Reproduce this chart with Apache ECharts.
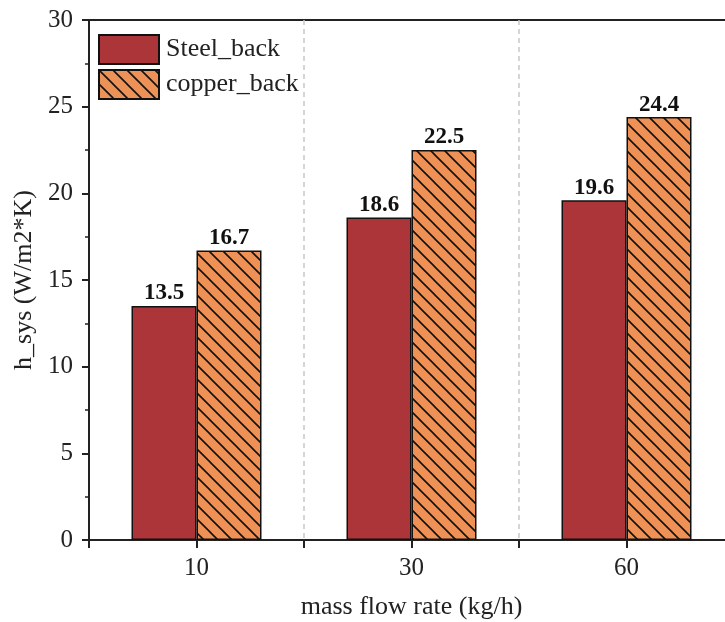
<!DOCTYPE html>
<html>
<head>
<meta charset="utf-8">
<script src="https://cdn.jsdelivr.net/npm/echarts@6/dist/echarts.min.js"></script>
<style>
html,body{margin:0;padding:0;background:#fff;}
#chart{width:725px;height:622px;}
</style>
</head>
<body>
<div id="chart"></div>
<script>
const categories = ['10', '30', '60'];
const steelBack = [13.5, 18.6, 19.6];
const copperBack = [16.7, 22.5, 24.4];
const seriesNames = ['Steel_back', 'copper_back'];

function hatch() {
  const s = 14;
  const c = document.createElement('canvas');
  c.width = s; c.height = s;
  const g = c.getContext('2d');
  g.fillStyle = '#EE9157';
  g.fillRect(0, 0, s, s);
  g.strokeStyle = '#111';
  g.lineWidth = 1.6;
  g.beginPath();
  g.moveTo(-2, -2); g.lineTo(s + 2, s + 2);
  g.moveTo(-2, s - 2); g.lineTo(2, s + 2);
  g.moveTo(s - 2, -2); g.lineTo(s + 2, 2);
  g.stroke();
  return c;
}

const font = 'Liberation Serif';
const chart = echarts.init(document.getElementById('chart'));
const labelStyle = {
  show: true, position: 'top', distance: 1,
  fontFamily: font, fontWeight: 'bold', fontSize: 23, color: '#111'
};
chart.setOption({
  animation: false,
  backgroundColor: '#fff',
  grid: {
    left: 89, top: 20, height: 520, width: 645,
    outerBoundsMode: 'none', containLabel: false,
    show: true, borderColor: '#222', borderWidth: 2
  },
  legend: {
    left: 93, top: 29, orient: 'vertical',
    icon: 'rect',
    itemWidth: 60, itemHeight: 29, itemGap: 4,
    textStyle: { fontFamily: font, fontSize: 26, color: '#222', padding: [0, 0, 0, 2] },
    data: seriesNames
  },
  xAxis: [{
    type: 'category', data: categories,
    name: 'mass flow rate (kg/h)', nameLocation: 'middle', nameGap: 54,
    nameTextStyle: { fontFamily: font, fontSize: 26, color: '#222' },
    axisLine: { lineStyle: { color: '#222', width: 2 } },
    axisTick: { show: true, length: 8, inside: false, alignWithLabel: false, lineStyle: { color: '#222', width: 2 } },
    axisLabel: { fontFamily: font, fontSize: 25, color: '#222', margin: 16 },
    splitLine: { show: true, lineStyle: { color: '#c8c8c8', type: [5, 4], width: 1.5 } }
  }, {
    type: 'category', data: categories, position: 'bottom',
    axisLine: { show: false },
    axisTick: { show: true, length: 8, alignWithLabel: true, lineStyle: { color: '#222', width: 2 } },
    axisLabel: { show: false },
    splitLine: { show: false }
  }],
  yAxis: {
    type: 'value', min: 0, max: 30, interval: 5,
    name: 'h_sys (W/m2*K)', nameLocation: 'middle', nameGap: 50,
    nameTextStyle: { fontFamily: font, fontSize: 26, color: '#222' },
    axisLine: { show: true, lineStyle: { color: '#222', width: 2 } },
    axisTick: { show: true, length: 7, lineStyle: { color: '#222', width: 2 } },
    minorTick: { show: true, splitNumber: 2, length: 4, lineStyle: { color: '#222', width: 1.5 } },
    axisLabel: { fontFamily: font, fontSize: 25, color: '#222', margin: 16 },
    splitLine: { show: false }
  },
  series: [{
    name: seriesNames[0], type: 'bar', data: steelBack,
    barWidth: 65, barGap: '0%',
    itemStyle: { color: '#AC3539', borderColor: '#111', borderWidth: 1.5 },
    label: labelStyle
  }, {
    name: seriesNames[1], type: 'bar', data: copperBack,
    barWidth: 65, barGap: '0%',
    itemStyle: { color: { image: hatch(), repeat: 'repeat' }, borderColor: '#111', borderWidth: 1.5 },
    label: labelStyle
  }]
});
</script>
</body>
</html>
